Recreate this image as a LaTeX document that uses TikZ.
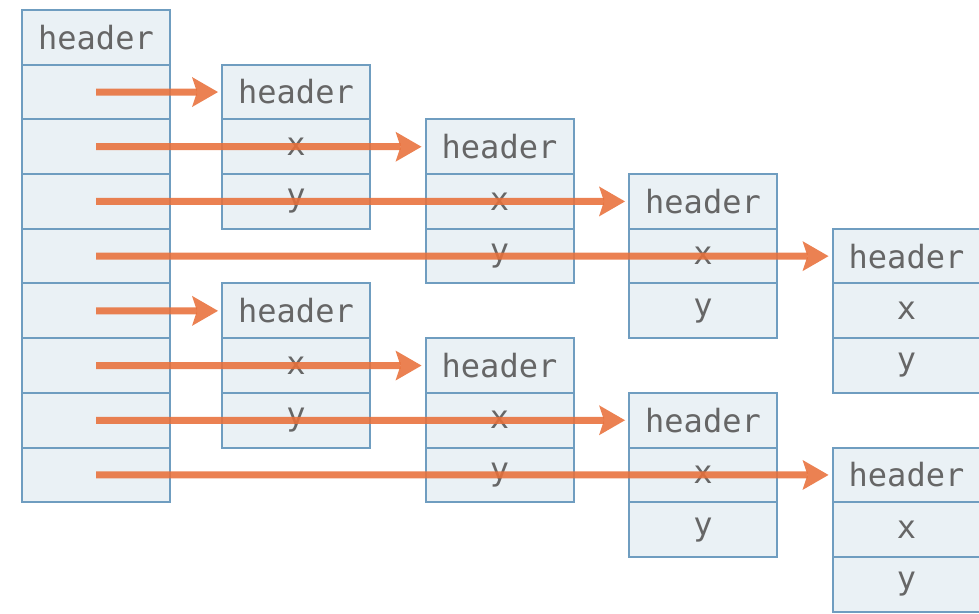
\documentclass[tikz,border=0pt]{standalone}
\usepackage{fontspec}
\usepackage{tikz}
\usetikzlibrary{arrows.meta,positioning}
\newfontfamily\mono{DejaVu Sans Mono}
\definecolor{cellfill}{HTML}{EAF1F5}
\definecolor{cellline}{HTML}{6F9DC0}
\definecolor{ptrorange}{HTML}{E8703A}
\definecolor{textgrey}{HTML}{666666}

\begin{document}
\begin{tikzpicture}[x=0.5pt,y=-0.5pt,
  cell/.style={draw=cellline,line width=1pt,fill=cellfill,minimum width=74pt,
    minimum height=27.35pt,inner sep=0pt,outer sep=0pt,
    font=\fontsize{16}{16}\selectfont\mono,text=textgrey},
  ptr/.style={ptrorange,line width=3.5pt,opacity=0.88,
    -{Stealth[length=13pt,width=15pt,inset=2.5pt,line width=0pt]},shorten >=2pt}]
  \useasboundingbox (0,0) rectangle (979,614);

  % Pointer array
  \node[cell,anchor=north west] (L0) at (22,10) {header};
  \foreach \i [remember=\i as \j (initially 0)] in {1,...,8}
    \node[cell,below=0pt of L\j] (L\i) {};

  % Point objects
  \foreach \i/\k in {1/0,2/1,3/2,4/3,5/0,6/1,7/2,8/3} {
    \node[cell,anchor=north west] (H\i) at ({222+203.5*\k},{10+54.7*\i}) {header};
    \node[cell,below=0pt of H\i] (X\i) {x};
    \node[cell,below=0pt of X\i] (Y\i) {y};
  }

  % Pointers
  \foreach \i in {1,...,8}
    \draw[ptr] (L\i.center) -- (H\i.west);
\end{tikzpicture}
\end{document}
